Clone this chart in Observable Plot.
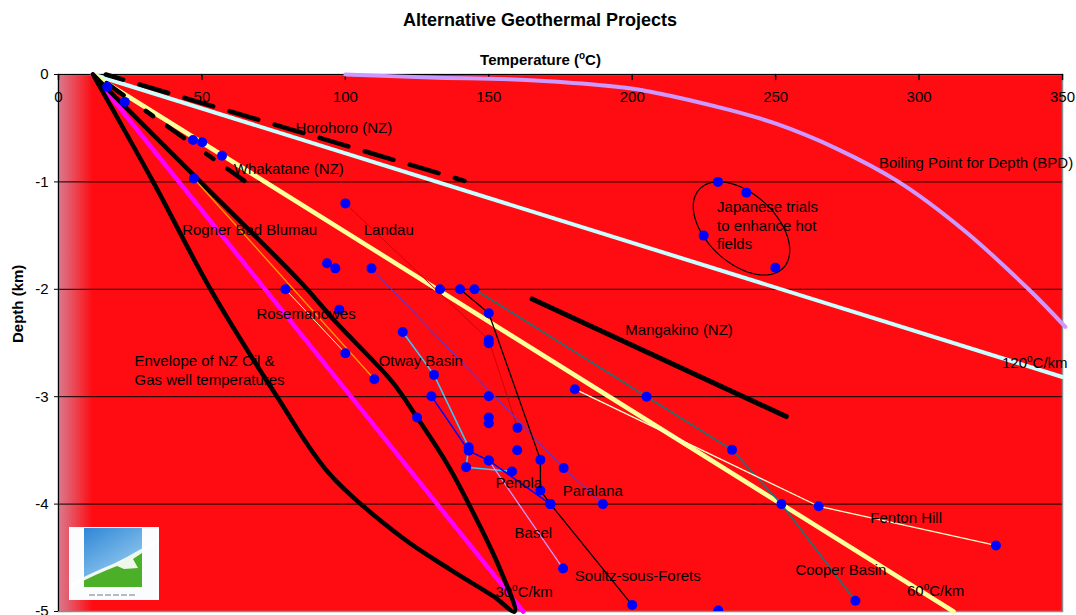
<!DOCTYPE html>
<html>
<head>
<meta charset="utf-8">
<script src="https://cdn.jsdelivr.net/npm/d3@7"></script>
<script src="https://cdn.jsdelivr.net/npm/@observablehq/plot@0.6"></script>
<style>
  body { margin: 0; background: #fff; font-family: "Liberation Sans", Arial, sans-serif; overflow: hidden; }
  #title { width: 1076px; padding-left: 4px; box-sizing: border-box; height: 40px; line-height: 40px;
           text-align: center; font-weight: bold; font-size: 18px; color: #000; }
  #chart svg { display: block; }
</style>
</head>
<body>
<div id="title">Alternative Geothermal Projects</div>
<div id="chart"></div>
<script>
// Axes: temperature (°C) across the top, depth (km) down the side
const tempTicks = [0, 50, 100, 150, 200, 250, 300, 350];
const depthTicks = [0, -1, -2, -3, -4, -5];
const surfaceTemp = 12;                 // ground surface temperature, °C
const geothermRates = [30, 60, 120];     // reference gradients, °C/km

// Boiling point for depth curve [°C, km]
const bpd = [[100, 0], [129.7, -0.028], [164.5, -0.053], [197, -0.121], [206.3, -0.16],
             [234.2, -0.332], [249.9, -0.456], [271.4, -0.692], [292.9, -1.0],
             [315.5, -1.448], [338.2, -2.0], [351, -2.35]];

// Envelope of NZ oil & gas well temperatures (cool side down, warm side back up)
const nzEnvelope = [[12, 0], [33, -1.0], [53, -2.0], [76.2, -3.0], [94.2, -3.71], [119.2, -4.30],
                    [136.6, -4.61], [151.7, -4.86], [159, -5.0], [154, -4.61], [141.3, -3.91],
                    [134.9, -3.60], [124.4, -3.17], [116.3, -2.86], [96.5, -2.30], [84.3, -1.93],
                    [49.5, -1.0], [12, 0]];

// NZ field gradients
const horohoro = [[16.5, 0], [141.5, -0.99]];
const whakatane = [[12.5, 0], [64.8, -0.99]];
const mangakino = [[165.1, -2.09], [253.7, -3.185]];

// Measured well profiles [°C, km]
const landau      = [[100, -1.2], [150, -2.47], [160, -3.29]];
const paralana    = [[109.1, -1.805], [176.1, -3.665], [189.8, -4.0]];
const soultz      = [[140, -2.0], [150, -2.223], [168, -3.588], [168, -3.873], [171.5, -4.0], [200, -4.94]];
const cooperBasin = [[145, -2.0], [205, -3.0], [234.8, -3.495], [252, -4.0], [277.8, -4.9]];
const fentonHill  = [[180, -2.93], [265, -4.02], [326.8, -4.385]];
const otwayBasin  = [[120, -2.397], [130.9, -2.797], [143, -3.47], [142.1, -3.656], [158.1, -3.697]];
const penola      = [[130, -2.995], [143, -3.504], [150, -3.594], [171.5, -4.0]];
const basel       = [[150, -3.594], [175.9, -4.6]];
const rosemanowes = [[79.1, -2.0], [100, -2.595]];
const rognerBadBlumau = [[47.2, -0.968], [110.1, -2.837]];
const japaneseTrials  = [[229.9, -1.0], [239.8, -1.1], [224.9, -1.5], [249.9, -1.8]];
const otherWells  = [[17, -0.115], [23.1, -0.255], [46.9, -0.61], [50.1, -0.63], [57, -0.757],
                     [93.6, -1.758], [96.5, -1.805], [97.9, -2.19], [133, -2.0], [125, -3.194],
                     [150, -2.502], [150, -2.995], [150, -3.194], [150, -3.247], [159.9, -3.498],
                     [230, -4.99]];

// Ring drawn around the Japanese trials: centre and conjugate half-axes in (°C, km)
const japanRing = {t: 238.1, d: -1.433, at: 14.85, bt: 7.9, bd: -0.434};

// Text annotations anchored in data units
const annotations = [
  {label: "Horohoro (NZ)", t: 82.6, d: -0.497},
  {label: "Whakatane (NZ)", t: 61.1, d: -0.884},
  {label: "Rogner Bad Blumau", t: 43.1, d: -1.448},
  {label: "Landau", t: 106.4, d: -1.448},
  {label: "Rosemanowes", t: 69.0, d: -2.23},
  {label: "Otway Basin", t: 111.6, d: -2.673},
  {label: "Envelope of NZ Oil &", t: 26.5, d: -2.673},
  {label: "Gas well temperatures", t: 26.5, d: -2.85},
  {label: "Mangakino (NZ)", t: 197.6, d: -2.38},
  {label: "Boiling Point for Depth (BPD)", t: 286, d: -0.828},
  {label: "Japanese trials", t: 229.6, d: -1.237},
  {label: "to enhance hot", t: 229.6, d: -1.408},
  {label: "fields", t: 229.6, d: -1.579},
  {label: "120°C/km", t: 328.9, d: -2.688},
  {label: "Penola", t: 152.3, d: -3.805},
  {label: "Paralana", t: 175.8, d: -3.876},
  {label: "Basel", t: 159, d: -4.27},
  {label: "Soultz-sous-Forets", t: 180, d: -4.667},
  {label: "Fenton Hill", t: 283, d: -4.13},
  {label: "Cooper Basin", t: 256.9, d: -4.611},
  {label: "60°C/km", t: 295.8, d: -4.813},
  {label: "30°C/km", t: 152.3, d: -4.819}
];

const tMax = tempTicks[tempTicks.length - 1];
const dMin = depthTicks[depthTicks.length - 1];

// A straight geotherm from the surface until it leaves the frame
function geotherm(rate) {
  const depth = Math.min(-dMin, (tMax - surfaceTemp) / rate);
  return [[surfaceTemp, 0], [surfaceTemp + rate * depth, -depth]];
}

function ring({t, d, at, bt, bd}) {
  return d3.range(0, 73).map(i => {
    const a = (i / 72) * 2 * Math.PI;
    return [t + at * Math.cos(a) + bt * Math.sin(a), d + bd * Math.sin(a)];
  });
}

const pt = {x: d => d[0], y: d => d[1]};
const thin = (data, stroke, strokeWidth) => Plot.line(data, {...pt, stroke, strokeWidth});
const tickDown = {draw(context, l) { context.moveTo(0, 0); context.lineTo(0, -l); }};

const wells = [landau, paralana, soultz, cooperBasin, fentonHill, otwayBasin, penola, basel,
               rosemanowes, rognerBadBlumau, japaneseTrials, otherWells].flat();

const [g30, g60, g120] = geothermRates.map(geotherm);

const chart = Plot.plot({
  width: 1076,
  height: 575,
  marginTop: 34,
  marginLeft: 58,
  marginRight: 14,
  marginBottom: 4,
  style: {fontFamily: '"Liberation Sans", Arial, sans-serif', fontSize: "15px", background: "transparent", color: "black", overflow: "visible"},
  x: {domain: [0, tMax], axis: null},
  y: {domain: [dMin, 0], axis: null},
  marks: [
    Plot.frame({fill: "#fe0c12", stroke: "none"}),
    Plot.rect([surfaceTemp], {x1: () => 0, x2: d => d, y1: () => dMin, y2: () => 0, fill: "url(#ambientFade)"}),
    Plot.ruleY(depthTicks.filter(d => d < 0 && d > dMin), {stroke: "black", strokeWidth: 1}),
    Plot.frame({stroke: "#8c8c8c", strokeWidth: 1.5}),
    Plot.ruleY([0], {stroke: "black", strokeWidth: 1.2}),
    Plot.ruleX([0], {stroke: "black", strokeWidth: 1.2}),

    // axes
    Plot.vector(tempTicks, {x: d => d, frameAnchor: "top", length: 5, rotate: 180, anchor: "start", shape: tickDown, stroke: "black"}),
    Plot.text(tempTicks, {x: d => d, frameAnchor: "top", lineAnchor: "middle", dy: 23, text: d => String(d), fill: "black"}),
    Plot.axisY({ticks: depthTicks, tickFormat: d => String(d), tickSize: 4, tickPadding: 6, label: null, stroke: "black", fill: "black"}),
    Plot.text(["Temperature (°C)"], {frameAnchor: "top", lineAnchor: "middle", dx: -20, dy: -14, fontWeight: "bold", fill: "black"}),
    Plot.text(["Depth (km)"], {frameAnchor: "left", lineAnchor: "middle", dx: -40, rotate: -90, fontWeight: "bold", fill: "black"}),

    // boiling point for depth
    Plot.line(bpd, {...pt, stroke: "#cc99ff", strokeWidth: 4, curve: "catmull-rom"}),

    // reference geotherms
    Plot.line(g120, {...pt, stroke: "#ccffff", strokeWidth: 4}),
    Plot.line(g60, {...pt, stroke: "#ffff99", strokeWidth: 4.5}),
    Plot.line(g30, {...pt, stroke: "#ff00ff", strokeWidth: 4.5}),

    // NZ fields
    Plot.line(horohoro, {...pt, stroke: "black", strokeWidth: 4.5, strokeDasharray: "30,17", strokeDashoffset: 12}),
    Plot.line(whakatane, {...pt, stroke: "black", strokeWidth: 4.5, strokeDasharray: "21,27,9,17", strokeDashoffset: 59}),
    Plot.line(nzEnvelope, {...pt, stroke: "black", strokeWidth: 4.5, curve: "catmull-rom"}),
    Plot.line(mangakino, {...pt, stroke: "black", strokeWidth: 5}),

    // well profiles
    thin(landau, "#d40000", 1),
    thin(rognerBadBlumau, "#ff9900", 1.3),
    thin(rosemanowes, "#ffff99", 1),
    thin(paralana, "#6633cc", 1.3),
    thin(soultz, "black", 1.3),
    thin(cooperBasin, "#008080", 1.5),
    thin(fentonHill, "#ffffcc", 1.3),
    thin(otwayBasin, "#33ccff", 1.5),
    thin(penola, "#0000ff", 1.5),
    thin(basel, "#cc99ff", 1.3),
    Plot.line(ring(japanRing), {...pt, stroke: "black", strokeWidth: 1.2, curve: "linear"}),
    Plot.dot(wells, {...pt, r: 5, fill: "#0000ff", stroke: "none", clip: true}),

    Plot.text(annotations, {x: "t", y: "d", text: "label", textAnchor: "start", fill: "black"})
  ]
});

// gradient for the strip below surface temperature
const svg = d3.select(chart);
const lg = svg.insert("defs", ":first-child").append("linearGradient")
  .attr("id", "ambientFade").attr("x1", "0").attr("x2", "1").attr("y1", "0").attr("y2", "0");
lg.append("stop").attr("offset", "0%").attr("stop-color", "#d97c90");
lg.append("stop").attr("offset", "100%").attr("stop-color", "#fe0c12");

// raise the "o" of °C
const NS = "http://www.w3.org/2000/svg";
chart.querySelectorAll("text").forEach(el => {
  const s = el.textContent;
  if (!s.includes("°") || el.children.length) return;
  const [a, b] = s.split("°");
  el.textContent = "";
  const t1 = document.createElementNS(NS, "tspan"); t1.textContent = a;
  const t2 = document.createElementNS(NS, "tspan"); t2.textContent = "o";
  t2.setAttribute("dy", "-6"); t2.setAttribute("font-size", "10");
  const t3 = document.createElementNS(NS, "tspan"); t3.textContent = b;
  t3.setAttribute("dy", "6");
  el.append(t1, t2, t3);
});

// society emblem in the lower-left corner of the frame
const fx = 58, fb = 575 - 4;
const logo = svg.append("g").attr("transform", `translate(${fx + 11},${fb - 84})`);
const blue = svg.select("defs").append("linearGradient").attr("id", "emblemSky")
  .attr("x1", "0").attr("x2", "0.6").attr("y1", "0").attr("y2", "1");
blue.append("stop").attr("offset", "0%").attr("stop-color", "#2f86d6");
blue.append("stop").attr("offset", "100%").attr("stop-color", "#9fd2f2");
logo.append("rect").attr("width", 90).attr("height", 73).attr("fill", "#fbfcfd");
logo.append("rect").attr("x", 15).attr("y", 1).attr("width", 58).attr("height", 59).attr("fill", "url(#emblemSky)");
logo.append("path").attr("d", "M15,60 L15,52 L30,45 L45,39 L58,31 L73,22 L73,60 Z").attr("fill", "#4caf28");
logo.append("path")
  .attr("d", "M1,57 Q24,45 44,37 L58,30 Q74,21 89,12 L89,15 Q76,24 64,32 L69,41 L55,42 L48,39 Q27,47 2,60 Z")
  .attr("fill", "#ffffff").attr("opacity", 0.9);
logo.append("path").attr("d", "M20,68 L68,68").attr("stroke", "#9aa8b8").attr("stroke-width", 1.5).attr("stroke-dasharray", "6,2");

document.getElementById("chart").append(chart);
</script>
</body>
</html>
